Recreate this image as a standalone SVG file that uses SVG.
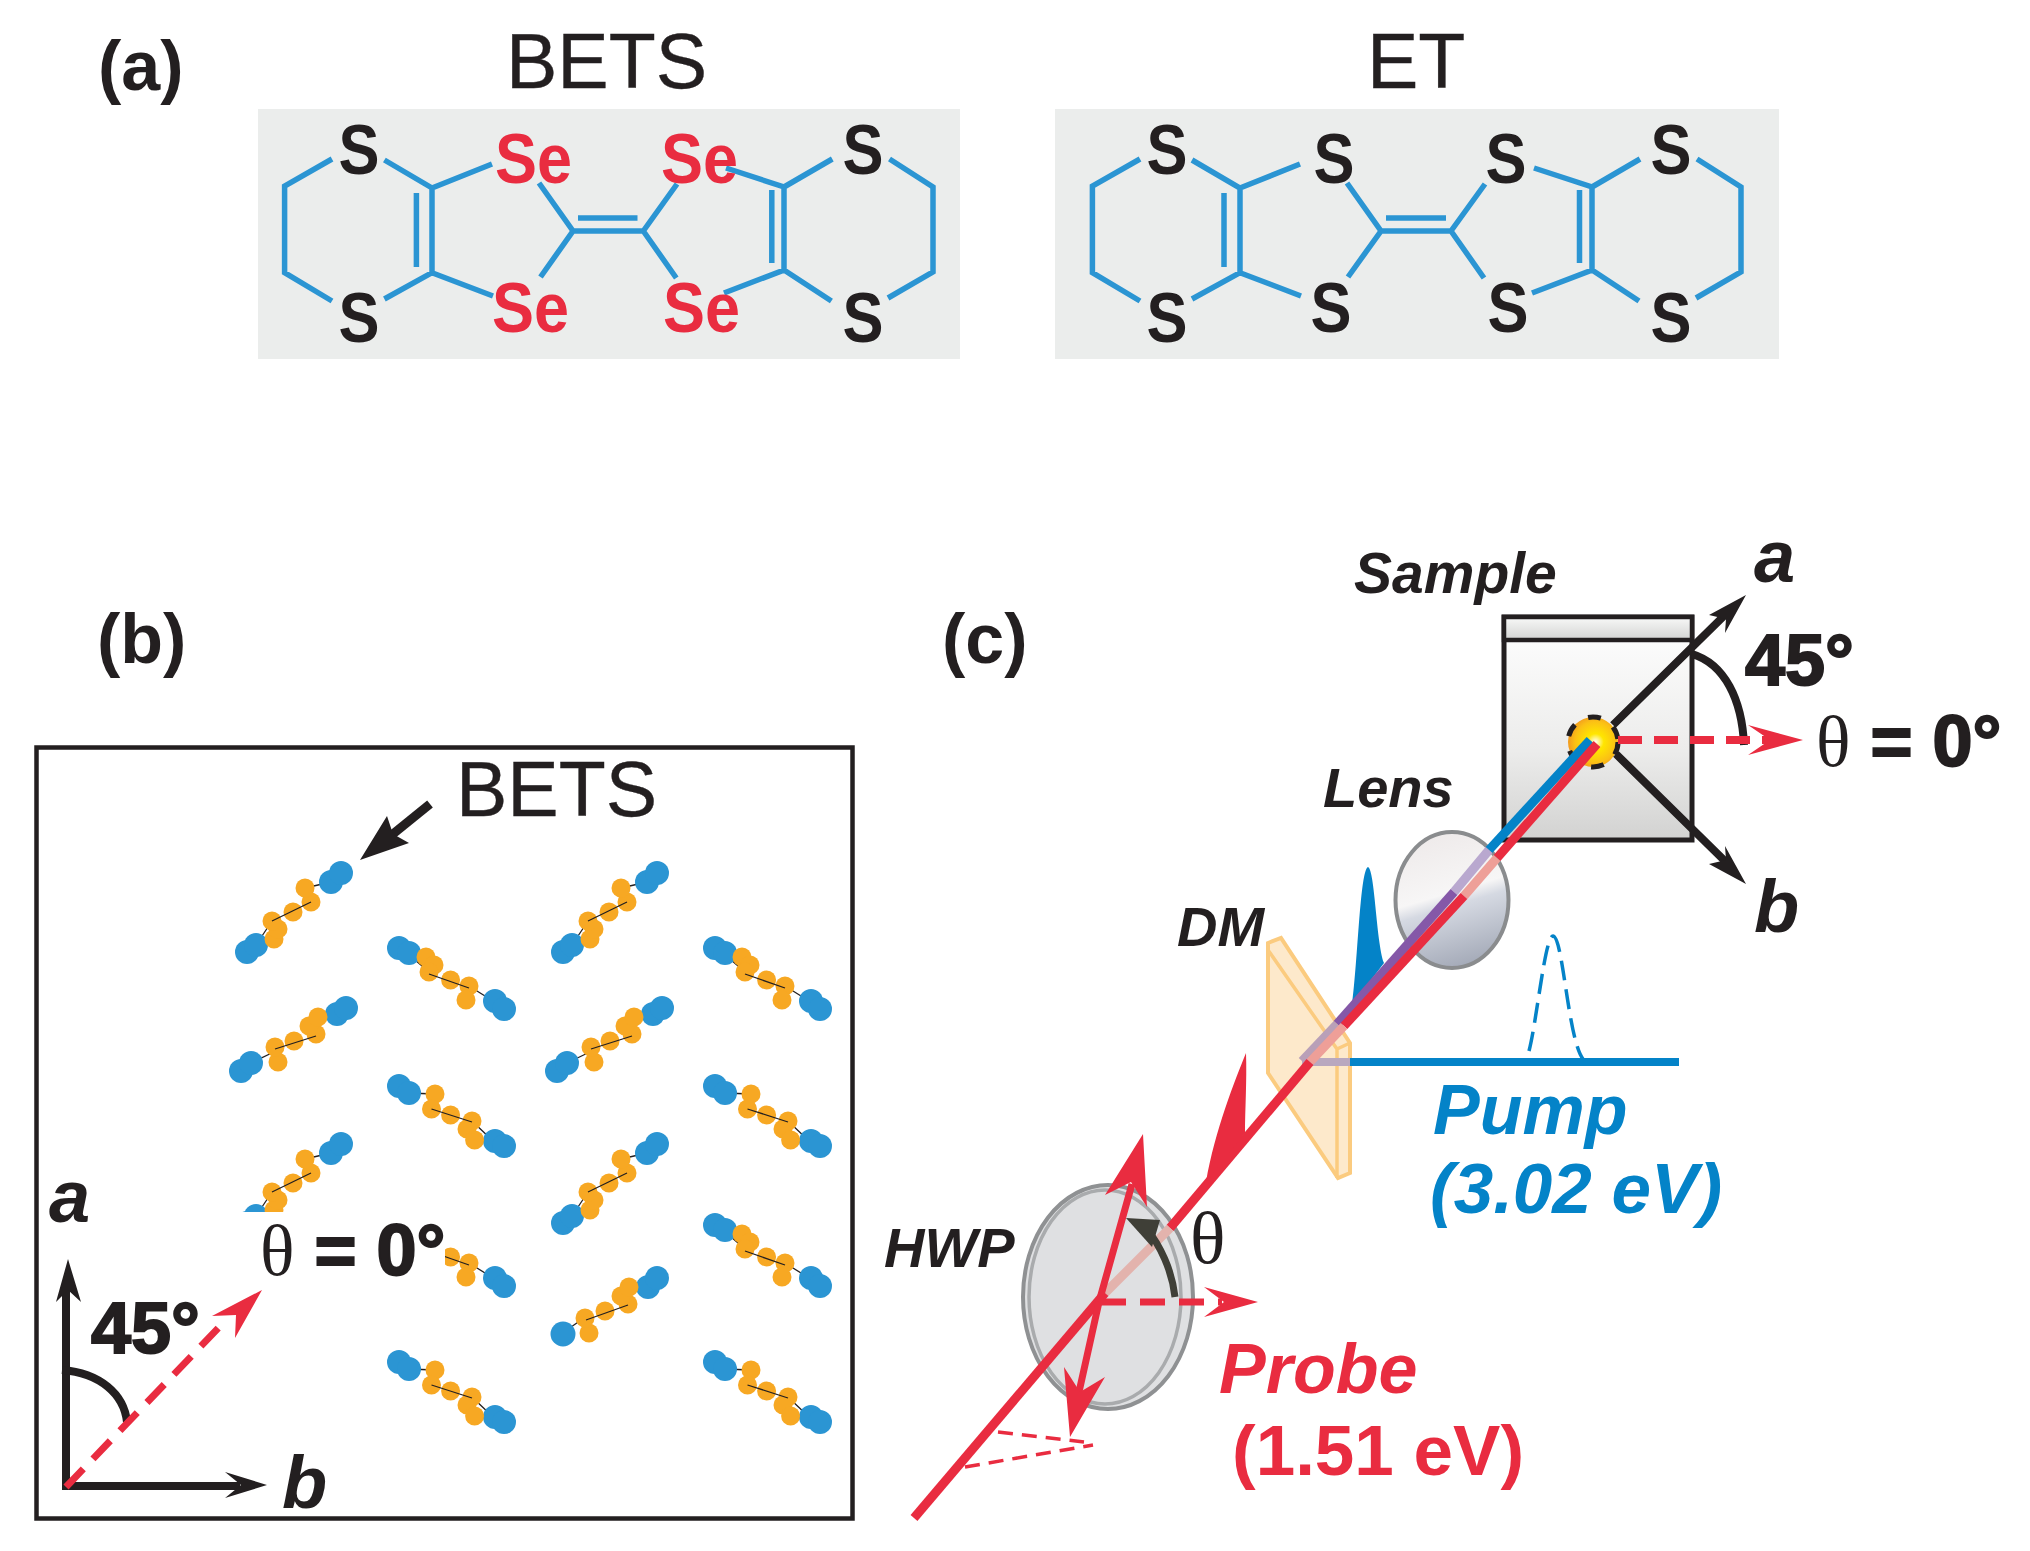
<svg xmlns="http://www.w3.org/2000/svg" xmlns:xlink="http://www.w3.org/1999/xlink" width="2030" height="1551" viewBox="0 0 2030 1551">
<style>
text{font-family:"Liberation Sans",Arial,sans-serif;fill:#231f20}
.b{font-weight:700}
.bi{font-weight:700;font-style:italic}
.t{font-size:77px;stroke:#231f20;stroke-width:.4}
.h{font-size:70px;font-weight:700}
.S{font-size:70px;font-weight:700;text-anchor:middle}
.Se{font-size:70px;font-weight:700;fill:#e92c40}
.ser{font-family:"Liberation Serif",serif;font-weight:400}
.big{font-size:72px;font-weight:700;stroke:#231f20;stroke-width:2}
.bond{stroke:#2b95d3;stroke-width:5.500;fill:none;stroke-linecap:butt}
.bx{fill:#ebedec}
.bl{fill:#2b95d3}.or{fill:#f7a823}
.thin{stroke:#231f20;stroke-width:1.300;fill:none}
.ax{stroke:#231f20;stroke-width:8;fill:none}
.axh{fill:#231f20}
.rd{stroke:#e92c40;stroke-width:7;stroke-dasharray:25 14;fill:none}
.rh{fill:#e92c40}
.beam{stroke-width:9;fill:none}
</style>
<defs>
<linearGradient id="gSample" x1="0" y1="0" x2="0" y2="1"><stop offset="0" stop-color="#ffffff"/><stop offset="0.6" stop-color="#ececeb"/><stop offset="1" stop-color="#d2d2d1"/></linearGradient>
<linearGradient id="gTop" x1="0" y1="0" x2="0" y2="1"><stop offset="0" stop-color="#f8f9f8"/><stop offset="1" stop-color="#d3d3d2"/></linearGradient>
<linearGradient id="gLens" x1="0.35" y1="0" x2="0.6" y2="1"><stop offset="0" stop-color="#eeeaea"/><stop offset="0.45" stop-color="#f7f6f6"/><stop offset="0.55" stop-color="#d5d9e2"/><stop offset="1" stop-color="#a3a9b7"/></linearGradient>
<radialGradient id="gSpot" cx="0.55" cy="0.5" r="0.55"><stop offset="0" stop-color="#ffffff"/><stop offset="0.3" stop-color="#ffe600"/><stop offset="0.75" stop-color="#fbc015"/><stop offset="1" stop-color="#f29a1f"/></radialGradient>
<g id="molA">
<path class="thin" d="M255,945L271,921M304,888L330,882"/>
<circle class="bl" cx="246" cy="952" r="12"/><circle class="bl" cx="255" cy="945" r="12"/><circle class="bl" cx="330" cy="882" r="12"/><circle class="bl" cx="340" cy="873" r="12"/>
<circle class="or" cx="273" cy="939" r="9.500"/><circle class="or" cx="277" cy="929" r="9.500"/><circle class="or" cx="271" cy="921" r="9.500"/><circle class="or" cx="292" cy="912" r="9.500"/><circle class="or" cx="310" cy="902" r="9.500"/><circle class="or" cx="304" cy="888" r="9.500"/>
<path class="thin" d="M271,921L310,902"/>
</g>
<g id="molB">
<path class="thin" d="M250,1063L277,1050M308,1026L336,1014"/>
<circle class="bl" cx="240" cy="1071" r="12"/><circle class="bl" cx="250" cy="1063" r="12"/><circle class="bl" cx="336" cy="1014" r="12"/><circle class="bl" cx="345" cy="1008" r="12"/>
<circle class="or" cx="277" cy="1062" r="9.500"/><circle class="or" cx="274" cy="1047" r="9.500"/><circle class="or" cx="293" cy="1041" r="9.500"/><circle class="or" cx="315" cy="1034" r="9.500"/><circle class="or" cx="308" cy="1026" r="9.500"/><circle class="or" cx="317" cy="1017" r="9.500"/>
<path class="thin" d="M274,1049L315,1036"/>
</g>
<g id="molD">
<path class="thin" d="M407,953L429,972M469,986L493,1001"/>
<circle class="bl" cx="399" cy="948" r="12"/><circle class="bl" cx="409" cy="953" r="12"/><circle class="bl" cx="495" cy="1001" r="12"/><circle class="bl" cx="504" cy="1009" r="12"/>
<circle class="or" cx="426" cy="957" r="9.500"/><circle class="or" cx="434" cy="965" r="9.500"/><circle class="or" cx="429" cy="972" r="9.500"/><circle class="or" cx="450.600" cy="980" r="9.500"/><circle class="or" cx="469" cy="986" r="9.500"/><circle class="or" cx="466" cy="1000" r="9.500"/>
<path class="thin" d="M429,974L469,988"/>
</g>
<g id="molE">
<path class="thin" d="M408,1093L435,1094M472,1121L493,1141"/>
<circle class="bl" cx="399" cy="1086" r="12"/><circle class="bl" cx="409" cy="1093" r="12"/><circle class="bl" cx="495" cy="1141" r="12"/><circle class="bl" cx="504" cy="1146" r="12"/>
<circle class="or" cx="435" cy="1094" r="9.500"/><circle class="or" cx="431.500" cy="1109" r="9.500"/><circle class="or" cx="450.600" cy="1115" r="9.500"/><circle class="or" cx="472" cy="1121" r="9.500"/><circle class="or" cx="467" cy="1129" r="9.500"/><circle class="or" cx="474.600" cy="1140" r="9.500"/>
<path class="thin" d="M431.500,1109L472,1122"/>
</g>
</defs>

<rect width="2030" height="1551" fill="#fff"/>

<g id="panel-a">
<text class="h" x="98" y="90">(a)</text>
<text class="t" x="506" y="88">BETS</text>
<text class="t" x="1367" y="88">ET</text>
</g>

<g id="mol-bets">
<rect class="bx" x="258" y="109" width="702" height="250"/>
<path class="bond" d="M332,159L284.6,186V272.7L332,301M384.4,160L432,188V272.7L384.4,299M416.4,193V267M432,188L492,164M432,272.7L493,296M539,183L573,231L540.5,277M573,231H643.3M578,218H637.5M643.3,231L677,184M643.3,231L676.3,278M726,168L784,187V270L724,293M771.8,190V263M784,187L832.3,159M784,270L831.4,301M889.5,159L933,187V272L888,298"/>
<text class="S" x="359" y="174" textLength="41" lengthAdjust="spacingAndGlyphs">S</text><text class="S" x="359" y="342" textLength="41" lengthAdjust="spacingAndGlyphs">S</text>
<text class="Se" x="495" y="183" textLength="77" lengthAdjust="spacingAndGlyphs">Se</text><text class="Se" x="492" y="332" textLength="77" lengthAdjust="spacingAndGlyphs">Se</text>
<text class="Se" x="661" y="183" textLength="77" lengthAdjust="spacingAndGlyphs">Se</text><text class="Se" x="663" y="332" textLength="77" lengthAdjust="spacingAndGlyphs">Se</text>
<text class="S" x="863" y="174" textLength="41" lengthAdjust="spacingAndGlyphs">S</text><text class="S" x="863" y="342" textLength="41" lengthAdjust="spacingAndGlyphs">S</text>
</g>

<g id="mol-et">
<rect class="bx" x="1055" y="109" width="724" height="250"/>
<path class="bond" d="M1140,159L1092.4,186V272.7L1140,301M1192,160L1240,188V272.7L1192,299M1224,193V267M1240,188L1300,164M1240,272.7L1301,296M1347,183L1381,231L1348,277M1381,231H1451M1386,218H1446M1451,231L1485,184M1451,231L1484,278M1534,168L1592,187V270L1532,293M1579.5,190V263M1592,187L1640,159M1592,270L1639,301M1697,159L1741,187V272L1696,298"/>
<text class="S" x="1167" y="174" textLength="41" lengthAdjust="spacingAndGlyphs">S</text><text class="S" x="1167" y="342" textLength="41" lengthAdjust="spacingAndGlyphs">S</text>
<text class="S" x="1334" y="183" textLength="41" lengthAdjust="spacingAndGlyphs">S</text><text class="S" x="1331" y="332" textLength="41" lengthAdjust="spacingAndGlyphs">S</text>
<text class="S" x="1506" y="183" textLength="41" lengthAdjust="spacingAndGlyphs">S</text><text class="S" x="1508" y="332" textLength="41" lengthAdjust="spacingAndGlyphs">S</text>
<text class="S" x="1671" y="174" textLength="41" lengthAdjust="spacingAndGlyphs">S</text><text class="S" x="1671" y="342" textLength="41" lengthAdjust="spacingAndGlyphs">S</text>
</g>

<g id="panel-b">
<text class="h" x="97" y="663">(b)</text>
<rect x="36.500" y="747.500" width="816" height="771" fill="#fff" stroke="#231f20" stroke-width="4.500"/>
<text class="t" x="456" y="816">BETS</text>
<path d="M430,804L388,838" stroke="#231f20" stroke-width="9" fill="none"/>
<path class="axh" d="M360,860L387,816L393,834L409,843Z"/>
</g>

<g id="lattice">
<use xlink:href="#molA" x="1"/><use xlink:href="#molA" x="317"/>
<use xlink:href="#molB" x="1"/><use xlink:href="#molB" x="317"/>
<use xlink:href="#molA" x="1" y="271"/><use xlink:href="#molA" x="317" y="271"/>
<use xlink:href="#molD"/><use xlink:href="#molD" x="316"/>
<use xlink:href="#molE"/><use xlink:href="#molE" x="316"/>
<use xlink:href="#molD" y="277"/><use xlink:href="#molD" x="316" y="277"/>
<use xlink:href="#molE" y="276"/><use xlink:href="#molE" x="316" y="276"/>
<g id="mol-single">
<path class="thin" d="M561,1334L584,1318M620,1296L646,1287"/>
<circle class="bl" cx="563" cy="1334" r="12.500"/><circle class="bl" cx="648" cy="1287" r="12"/><circle class="bl" cx="657" cy="1278" r="12"/>
<circle class="or" cx="589" cy="1333" r="9.500"/><circle class="or" cx="585" cy="1318" r="9.500"/><circle class="or" cx="605" cy="1311" r="9.500"/><circle class="or" cx="628" cy="1304" r="9.500"/><circle class="or" cx="621" cy="1296" r="9.500"/><circle class="or" cx="629" cy="1287" r="9.500"/>
<path class="thin" d="M586,1320L628,1305"/>
</g>
<rect x="230" y="1212" width="215" height="82" fill="#fff"/>
</g>

<g id="axes-b">
<path class="ax" d="M66,1486V1285M62,1486H240"/>
<path class="axh" d="M68,1259L81,1302L68,1290L56,1302ZM267,1485L225,1472L241,1485L225,1498Z"/>
<path class="ax" d="M62,1370C100,1373 124,1394 127,1422"/>
<path class="rd" d="M66,1487L226,1320"/>
<path class="rh" d="M262,1290L212,1316L236,1315L235,1338Z"/>
<text class="big" x="91" y="1353">45°</text>
<text class="bi" font-size="74" x="49" y="1222">a</text>
<text class="bi" font-size="74" x="282" y="1508">b</text>
<text class="big" x="260" y="1275"><tspan class="ser" style="fill:#231f20;stroke:none">θ</tspan> = 0°</text>
</g>

<g id="panel-c"><text class="h" x="942" y="663">(c)</text></g>

<g id="sample">
<rect x="1504" y="617" width="188" height="223" fill="url(#gSample)" stroke="#231f20" stroke-width="5"/>
<rect x="1504" y="617" width="188" height="23" fill="url(#gTop)" stroke="#231f20" stroke-width="4.500"/>
<text class="bi" font-size="57" x="1354" y="593">Sample</text>
</g>
<g id="lens">
<ellipse cx="1452" cy="900" rx="56.500" ry="68" fill="url(#gLens)" stroke="#8a8c8e" stroke-width="4"/>
<text class="bi" font-size="56" x="1323" y="807">Lens</text>
</g>
<g id="dm">
<path d="M1268,943L1281,938L1350,1043V1173L1338,1178L1268,1073Z" fill="#fde9cb" stroke="#fbcb7f" stroke-width="4"/>
<path d="M1268,950L1337,1049V1178M1337,1049L1350,1043" fill="none" stroke="#fbcb7f" stroke-width="3.500"/>
<text class="bi" font-size="56" x="1177" y="946">DM</text>
</g>
<g id="hwp">
<ellipse cx="1108" cy="1297" rx="85" ry="112" fill="#dfe0e2" stroke="#8f9193" stroke-width="4"/>
<ellipse cx="1105" cy="1297" rx="76" ry="107" fill="none" stroke="#a9abad" stroke-width="3.500"/>
<text class="bi" font-size="56" x="884" y="1267">HWP</text>
</g>
<g id="spot">
<ellipse cx="1593" cy="742" rx="25" ry="25" fill="url(#gSpot)" stroke="#231f20" stroke-width="5" stroke-dasharray="13 15"/>
</g>

<g id="connectors">
<path class="ax" d="M1613,725L1732,608M1616,754L1732,868"/>
<path class="axh" d="M1746,595L1709,615L1726,619L1725,633ZM1746,884L1709,864L1726,860L1725,846Z"/>
<path class="ax" d="M1692,654C1725,664 1742,700 1744,745"/>
<path class="rd" d="M1618,740H1770" style="stroke-width:8;stroke-dasharray:24 12"/>
<path class="rh" d="M1803,740L1748,725L1770,740L1748,755Z"/>

<path d="M1352,1005C1358,960 1360,870 1368,867C1375,870 1376,940 1384,963Z" fill="#0483c8"/>
<path d="M1302,1062H1350" stroke="#b9a8bf" stroke-width="8" fill="none"/>
<path d="M1350,1062H1679" stroke="#0483c8" stroke-width="8" fill="none"/>
<path d="M1529,1051C1537,1020 1545,936 1553,936C1563,936 1568,1040 1583,1059" stroke="#0483c8" stroke-width="3.500" stroke-dasharray="20 9" fill="none"/>

<path class="beam" stroke="#0483c8" d="M1590,740L1489,850"/>
<path class="beam" stroke="#b9a8cf" d="M1489,850L1454,892"/>
<path class="beam" stroke="#8558a8" d="M1454,892L1337,1024"/>
<path class="beam" stroke="#b9a0b8" d="M1337,1024L1302,1061"/>
<path class="beam" stroke="#e92c40" d="M1597,744L1497,858"/>
<path class="beam" stroke="#ee9f98" d="M1497,858L1464,896"/>
<path class="beam" stroke="#e92c40" d="M1464,896L1344,1026"/>
<path class="beam" stroke="#ee9f98" d="M1344,1026L1310,1062"/>
<path class="beam" stroke="#e92c40" d="M1310,1062L1170,1228"/>
<path class="beam" stroke="#e3b3ad" d="M1170,1228L1105,1293"/>
<path class="beam" stroke="#e92c40" d="M1105,1293L914,1518"/>

<path class="rh" d="M1246,1053C1247,1080 1245,1110 1245,1133L1206,1182C1215,1130 1235,1080 1246,1053Z"/>

<path d="M1099,1302L1132,1184M1099,1302L1079,1392" stroke="#e92c40" stroke-width="7" fill="none"/>
<path class="rh" d="M1143,1134L1105,1195L1131,1182L1147,1207ZM1070,1437L1064,1367L1080,1392L1105,1377Z"/>
<path class="rd" d="M1101,1302H1222"/>
<path class="rh" d="M1258,1302L1204,1287L1224,1302L1204,1317Z"/>
<path d="M1175,1297C1172,1270 1160,1245 1146,1228" stroke="#3f3f37" stroke-width="7" fill="none"/>
<path d="M1126,1218L1160,1220L1152,1247Z" fill="#3f3f37"/>
<path d="M965,1467L1093,1445M998,1432L1084,1442" stroke="#e92c40" stroke-width="3.500" stroke-dasharray="15 9" fill="none"/>
</g>

<g id="labels-c">
<text class="bi" font-size="74" x="1754" y="582">a</text>
<text class="bi" font-size="74" x="1754" y="932">b</text>
<text class="big" x="1745" y="685">45°</text>
<text class="big" x="1816" y="766"><tspan class="ser" style="fill:#231f20;stroke:none">θ</tspan> = 0°</text>
<text class="ser" font-size="74" x="1190" y="1263">θ</text>
<text class="bi" font-size="70" x="1433" y="1134" style="fill:#0483c8">Pump</text>
<text class="bi" font-size="71" x="1430" y="1213" style="fill:#0483c8">(3.02 eV)</text>
<text class="bi" font-size="70" x="1219" y="1393" style="fill:#e92c40">Probe</text>
<text class="b" font-size="71" x="1232" y="1475" style="fill:#e92c40">(1.51 eV)</text>
</g>
</svg>
